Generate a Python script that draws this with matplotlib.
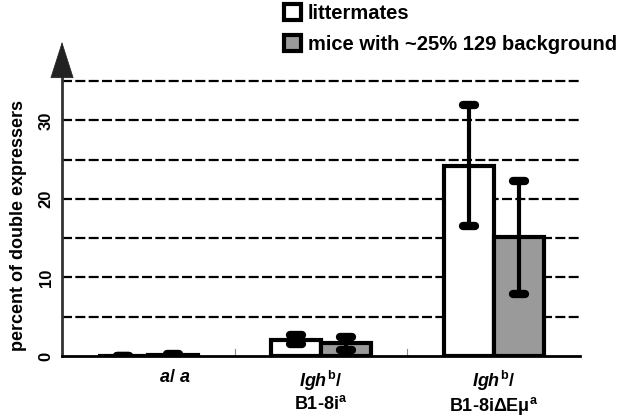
import numpy as np
import matplotlib
matplotlib.use('Agg')
import matplotlib.pyplot as plt
from matplotlib.patches import Patch
from matplotlib.markers import MarkerStyle

plt.rcParams['font.family'] = ['Liberation Sans', 'DejaVu Sans']
plt.rcParams['font.weight'] = 'bold'
plt.rcParams['axes.labelweight'] = 'bold'
plt.rcParams['mathtext.fontset'] = 'custom'
plt.rcParams['mathtext.rm'] = 'Liberation Sans:bold'
plt.rcParams['mathtext.it'] = 'Liberation Sans:bold:italic'
plt.rcParams['mathtext.bf'] = 'Liberation Sans:bold'

# 数据
categories = [r'$a$/ $a$', '$Igh^{\\mathrm{b}}$/\nB1-8i$^{\\mathrm{a}}$',
              '$Igh^{\\mathrm{b}}$/\nB1-8iΔEμ$^{\\mathrm{a}}$']
series_names = ['littermates', 'mice with ~25% 129 background']
litter_vals = [0.0, 2.1, 24.2]
litter_err = [0.05, 0.6, 7.7]
mice_vals = [0.15, 1.6, 15.1]
mice_err = [0.15, 0.8, 7.2]
y_ticks = [0, 10, 20, 30]
grid_levels = [5, 10, 15, 20, 25, 30, 35]

fig = plt.figure(figsize=(6.31, 4.17), dpi=100)
ax = fig.add_axes([0.0983, 0.1463, 0.821, 0.678])

x = np.arange(len(categories))
w = 0.29

for lv in grid_levels:
    ax.axhline(lv, color='black', lw=1.6, ls=(0, (4.5, 1.5)), zorder=1)

ax.bar(x - w / 2, litter_vals, w, color='white', edgecolor='black', lw=3, zorder=3)
ax.bar(x + w / 2, mice_vals, w, color='#9a9a9a', edgecolor='black', lw=3, zorder=3)

for xs, v, e in [(x - w / 2, litter_vals, litter_err), (x + w / 2, mice_vals, mice_err)]:
    eb = ax.errorbar(xs, v, yerr=e, fmt='none', ecolor='black', elinewidth=3,
                     capsize=4, capthick=6, zorder=4)
    for cl in eb[1]:
        cl.set_marker(MarkerStyle('_', capstyle='round'))

# 类别分隔刻度
for sep in [0.5, 1.5]:
    ax.plot([sep, sep], [0, 0.9], color='#888888', lw=0.8, zorder=2)

ax.set_xlim(-0.5, 2.5)
ax.set_ylim(0, 36)

for s in ['top', 'right']:
    ax.spines[s].set_visible(False)
ax.spines['left'].set_color('#333333')
ax.spines['left'].set_linewidth(2)
ax.spines['bottom'].set_color('black')
ax.spines['bottom'].set_linewidth(2)

# 坐标轴箭头
ax.annotate('', xy=(-0.5, 40.0), xytext=(-0.5, 35.8), xycoords='data',
            annotation_clip=False,
            arrowprops=dict(arrowstyle='-|>,head_length=2.5,head_width=0.8',
                            color='#222222', lw=0.5, shrinkA=0, shrinkB=0))

ax.set_yticks(y_ticks)
ax.set_yticklabels([str(t) for t in y_ticks], rotation=90, va='center', fontsize=12)
ax.tick_params(axis='y', length=0, pad=6)
ax.set_xticks(x)
ax.set_xticklabels([])
ax.tick_params(axis='x', length=0)
label_shift = [0.15, 0.0, 0.0]
for xi, lab, sh in zip(x, categories, label_shift):
    ax.text(xi + sh, -1.6, lab, ha='center', va='top', fontsize=13, linespacing=1.15)

ax.set_ylabel('percent of double expressers', fontsize=13)
ax.yaxis.set_label_coords(-0.068, 0.46)

handles = [Patch(facecolor='white', edgecolor='black', lw=3),
           Patch(facecolor='#9a9a9a', edgecolor='black', lw=3)]
fig.legend(handles, series_names, loc='upper left', bbox_to_anchor=(0.437, 1.01),
           frameon=False, fontsize=14.5, handlelength=0.85, handleheight=0.85,
           handletextpad=0.35, labelspacing=0.6, borderaxespad=0)

fig.savefig('out.png', dpi=100)
